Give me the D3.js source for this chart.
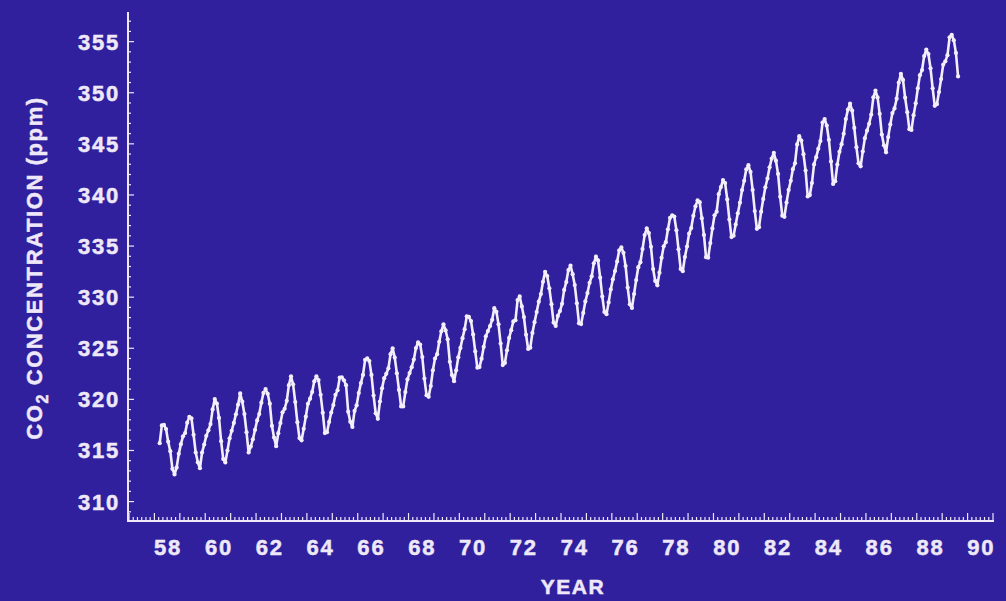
<!DOCTYPE html>
<html>
<head>
<meta charset="utf-8">
<script src="https://cdn.jsdelivr.net/npm/d3@7"></script>
<style>
html, body { margin: 0; padding: 0; background: #30209e; }
svg { display: block; }
text { font-family: "Liberation Sans", Arial, sans-serif; font-weight: bold; fill: #eee8f8; }
</style>
</head>
<body>
<svg id="chart" width="1006" height="601"></svg>
<script>
// monthly CO2 (ppm), first value is March 1958
var startYear = 1958;
var startMonth = 3;

var ppm1950s = [
    315.71, 317.45, 317.50, 317.10, 315.86, 314.93, 313.20, 312.66, 313.33, 314.67,
    315.62, 316.38, 316.71, 317.72, 318.29, 318.15, 316.54, 314.80, 313.84, 313.26, 314.80, 315.58
];
var ppm1960s = [
    316.43, 316.97, 317.58, 319.02, 320.03, 319.59, 318.18, 315.91, 314.16, 313.83, 315.00, 316.19,
    316.93, 317.70, 318.54, 319.48, 320.58, 319.77, 318.57, 316.79, 314.80, 315.38, 316.10, 317.01,
    317.94, 318.56, 319.68, 320.63, 321.01, 320.55, 319.58, 317.40, 316.26, 315.42, 316.69, 317.69,
    318.74, 319.08, 319.86, 321.39, 322.25, 321.47, 319.74, 317.77, 316.21, 315.99, 317.12, 318.31,
    319.57, 320.07, 320.73, 321.77, 322.25, 321.89, 320.44, 318.70, 316.70, 316.79, 317.79, 318.71,
    319.44, 320.44, 320.89, 322.13, 322.16, 321.87, 321.39, 318.80, 317.81, 317.30, 318.87, 319.42,
    320.62, 321.59, 322.39, 323.87, 324.01, 323.75, 322.39, 320.37, 318.64, 318.10, 319.79, 321.08,
    322.07, 322.50, 323.04, 324.42, 325.00, 324.09, 322.55, 320.92, 319.31, 319.31, 320.72, 321.96,
    322.57, 323.15, 323.89, 325.02, 325.57, 325.36, 324.14, 322.03, 320.41, 320.25, 321.31, 322.84,
    324.00, 324.42, 325.64, 326.66, 327.34, 326.76, 325.88, 323.67, 322.38, 321.78, 322.85, 324.11
];
var ppm1970s = [
    325.03, 325.99, 326.87, 328.13, 328.07, 327.66, 326.35, 324.69, 323.10, 323.16, 323.98, 325.13,
    326.17, 326.68, 327.18, 327.78, 328.92, 328.57, 327.34, 325.46, 323.36, 323.57, 324.80, 326.01,
    326.77, 327.63, 327.75, 329.72, 330.07, 329.09, 328.05, 326.32, 324.93, 325.06, 326.50, 327.55,
    328.54, 329.56, 330.30, 331.50, 332.48, 332.07, 330.87, 329.31, 327.51, 327.18, 328.16, 328.64,
    329.35, 330.71, 331.48, 332.65, 333.09, 332.25, 331.18, 329.40, 327.44, 327.37, 328.46, 329.58,
    330.40, 331.41, 332.04, 333.31, 333.96, 333.59, 331.91, 330.06, 328.56, 328.34, 329.49, 330.76,
    331.75, 332.56, 333.50, 334.58, 334.87, 334.34, 333.05, 330.94, 329.30, 328.94, 330.31, 331.68,
    332.93, 333.42, 334.70, 336.07, 336.74, 336.27, 334.93, 332.75, 331.59, 331.16, 332.40, 333.85,
    334.97, 335.38, 336.64, 337.76, 338.01, 337.89, 336.54, 334.68, 332.76, 332.54, 333.92, 334.95,
    336.23, 336.76, 337.96, 338.89, 339.47, 339.29, 337.73, 336.09, 333.91, 333.86, 335.29, 336.73
];
var ppm1980s = [
    338.01, 338.36, 340.08, 340.77, 341.46, 341.17, 339.56, 337.60, 335.88, 336.01, 337.10, 338.21,
    339.24, 340.48, 341.38, 342.51, 342.91, 342.25, 340.49, 338.43, 336.69, 336.85, 338.36, 339.61,
    340.75, 341.61, 342.70, 343.56, 344.13, 343.35, 342.06, 339.82, 337.97, 337.86, 339.26, 340.49,
    341.38, 342.52, 343.10, 344.94, 345.75, 345.32, 343.99, 342.39, 339.86, 339.99, 341.16, 342.99,
    343.70, 344.51, 345.28, 347.08, 347.43, 346.79, 345.40, 343.28, 341.07, 341.35, 342.98, 344.22,
    344.97, 345.99, 347.42, 348.35, 348.93, 348.25, 346.56, 344.67, 343.09, 342.80, 344.24, 345.56,
    346.29, 346.96, 347.86, 349.55, 350.21, 349.54, 347.94, 345.91, 344.86, 344.17, 345.66, 346.90,
    348.02, 348.47, 349.42, 350.99, 351.84, 351.25, 349.52, 348.10, 346.44, 346.36, 347.81, 348.96,
    350.43, 351.72, 352.22, 353.59, 354.22, 353.79, 352.39, 350.44, 348.72, 348.88, 350.07, 351.34,
    352.76, 353.07, 353.68, 355.42, 355.67, 355.13, 353.90, 351.60
];

var yTickValues = [310, 315, 320, 325, 330, 335, 340, 345, 350, 355];
var xTickYears = [58, 60, 62, 64, 66, 68, 70, 72, 74, 76, 78, 80, 82, 84, 86, 88, 90];

var yTitle = 'CO';
var yTitleSub = '2';
var yTitleRest = ' CONCENTRATION (ppm)';
var xTitle = 'YEAR';

var allPpm = ppm1950s.concat(ppm1960s, ppm1970s, ppm1980s);
var data = allPpm.map(function(v, i) {
    var m = startMonth - 1 + i;
    // middle of the month, in two-digit years
    return { t: (startYear - 1900) + (m + 0.5) / 12, v: v };
});

var svg = d3.select('#chart');

var x = d3.scaleLinear().domain([57, 91]).range([129, 993]);
var y = d3.scaleLinear().domain([308.1, 357.9]).range([521, 12]);

var axisColor = '#eee8f8';

// axis lines
svg.append('line')
    .attr('x1', 128).attr('x2', 128)
    .attr('y1', y.range()[1]).attr('y2', y.range()[0])
    .attr('stroke', axisColor).attr('stroke-width', 2);
svg.append('line')
    .attr('x1', 127).attr('x2', x.range()[1] + 1)
    .attr('y1', 521).attr('y2', 521)
    .attr('stroke', axisColor).attr('stroke-width', 2);

// y ticks: every ppm, longer every 5
var yMinor = d3.range(309, 358, 1);
svg.append('g').selectAll('line')
    .data(yMinor)
    .enter().append('line')
    .attr('x1', 128)
    .attr('x2', function(d) { return d % 5 == 0 ? 134 : 131; })
    .attr('y1', function(d) { return y(d); })
    .attr('y2', function(d) { return y(d); })
    .attr('stroke', axisColor).attr('stroke-width', 1.2);

// x ticks: every two months, longer at each year
var xMinor = d3.range(57 * 6, 91 * 6 + 1).map(function(d) { return d / 6; });
svg.append('g').selectAll('line')
    .data(xMinor)
    .enter().append('line')
    .attr('x1', function(d) { return x(d); })
    .attr('x2', function(d) { return x(d); })
    .attr('y1', 521)
    .attr('y2', function(d, i) { return i % 6 == 0 ? 513 : 517; })
    .attr('stroke', axisColor).attr('stroke-width', 1.2);

// tick labels
svg.append('g').selectAll('text')
    .data(yTickValues)
    .enter().append('text')
    .attr('x', 120)
    .attr('y', function(d) { return y(d); })
    .attr('dy', '0.36em')
    .attr('text-anchor', 'end')
    .style('font-size', '22px')
    .style('letter-spacing', '1.8px')
    .style('stroke', '#eee8f8').style('stroke-width', 0.5)
    .text(function(d) { return d; });

svg.append('g').selectAll('text')
    .data(xTickYears)
    .enter().append('text')
    .attr('x', function(d) { return x(d + 0.5) + 1; })
    .attr('y', 555)
    .attr('text-anchor', 'middle')
    .style('font-size', '22px')
    .style('letter-spacing', '1.8px')
    .style('stroke', '#eee8f8').style('stroke-width', 0.5)
    .text(function(d) { return d; });

// axis titles
svg.append('text')
    .attr('x', 573)
    .attr('y', 594)
    .attr('text-anchor', 'middle')
    .style('font-size', '21px')
    .style('letter-spacing', '1.5px')
    .style('stroke', '#eee8f8').style('stroke-width', 0.5)
    .text(xTitle);

var yt = svg.append('text')
    .attr('transform', 'translate(42,268) rotate(-90)')
    .attr('text-anchor', 'middle')
    .style('font-size', '22px')
    .style('letter-spacing', '1.6px')
    .style('stroke', '#eee8f8').style('stroke-width', 0.5);
yt.append('tspan').text(yTitle);
yt.append('tspan').attr('dy', 6).style('font-size', '16px').text(yTitleSub);
yt.append('tspan').attr('dy', -6).text(yTitleRest);

// the record
var line = d3.line()
    .x(function(d) { return x(d.t); })
    .y(function(d) { return y(d.v); });

svg.append('path')
    .datum(data)
    .attr('d', line)
    .attr('fill', 'none')
    .attr('stroke', '#f4eefa')
    .attr('stroke-width', 2.6)
    .attr('stroke-linejoin', 'round');

svg.append('g').selectAll('circle')
    .data(data)
    .enter().append('circle')
    .attr('cx', function(d) { return x(d.t); })
    .attr('cy', function(d) { return y(d.v); })
    .attr('r', 2.1)
    .attr('fill', '#f4eefa');
</script>
</body>
</html>
